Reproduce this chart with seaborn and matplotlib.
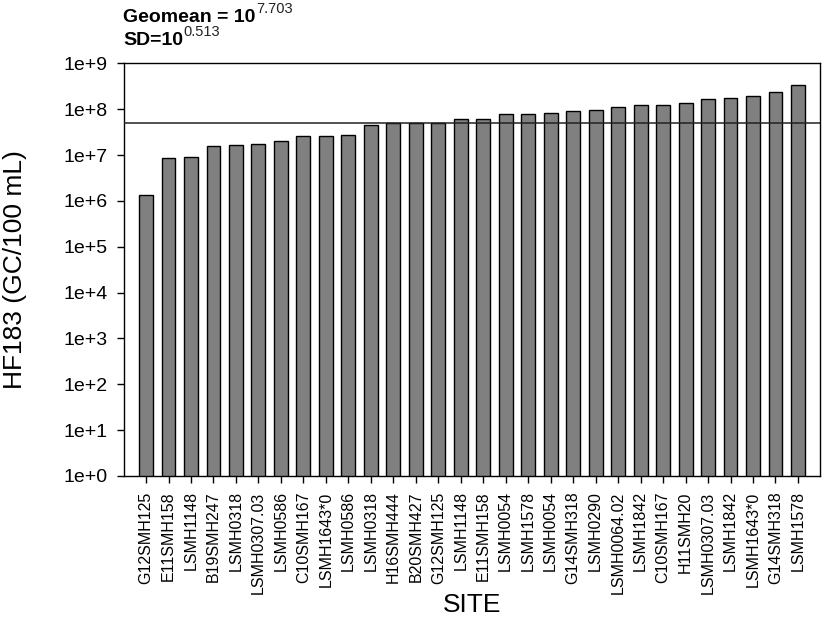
import numpy as np
import pandas as pd
import matplotlib
matplotlib.use("Agg")
import matplotlib.pyplot as plt
import seaborn as sns
from matplotlib.ticker import FixedLocator, FuncFormatter

sites = ["G12SMH125", "E11SMH158", "LSMH1148", "B19SMH247", "LSMH0318",
         "LSMH0307.03", "LSMH0586", "C10SMH167", "LSMH1643*0", "LSMH0586",
         "LSMH0318", "H16SMH444", "B20SMH427", "G12SMH125", "LSMH1148",
         "E11SMH158", "LSMH0054", "LSMH1578", "LSMH0054", "G14SMH318",
         "LSMH0290", "LSMH0064.02", "LSMH1842", "C10SMH167", "H11SMH20",
         "LSMH0307.03", "LSMH1842", "LSMH1643*0", "G14SMH318", "LSMH1578"]
hf183 = [1.35e6, 8.5e6, 8.9e6, 1.56e7, 1.62e7, 1.7e7, 2.0e7, 2.65e7, 2.65e7, 2.7e7,
         4.6e7, 4.9e7, 5.0e7, 5.0e7, 6.1e7, 6.1e7, 7.9e7, 7.9e7, 8.4e7, 9.1e7,
         9.6e7, 1.12e8, 1.23e8, 1.23e8, 1.36e8, 1.64e8, 1.73e8, 1.9e8, 2.4e8, 3.3e8]
geomean_exp = 7.703
sd_exp = 0.513
ytick_exps = list(range(0, 10))

sns.set_style("white")
plt.rcParams["font.family"] = ["Liberation Sans", "DejaVu Sans"]
plt.rcParams["text.color"] = "black"
plt.rcParams["axes.labelcolor"] = "black"
plt.rcParams["xtick.color"] = "black"
plt.rcParams["ytick.color"] = "black"

df = pd.DataFrame({"pos": list(range(len(sites))), "site": sites, "value": hf183})

fig = plt.figure(figsize=(8.23, 6.35), dpi=100)
ax = fig.add_axes([124/823, 1-476/635, (820-124)/823, (476-63.3)/635])

sns.barplot(data=df, x="pos", y="value", ax=ax, color="#808080", saturation=1,
            edgecolor="black", linewidth=1.0, width=0.62, errorbar=None)
ax.set_yscale("log")
ax.set_ylim(1, 1e9)
ax.set_xlim(-0.98, len(sites) - 1 + 0.98)
ax.axhline(10**geomean_exp, color="#222222", linewidth=1.1, zorder=3)

ax.yaxis.set_major_locator(FixedLocator([10.0**e for e in ytick_exps]))
ax.yaxis.set_minor_locator(FixedLocator([]))
ax.yaxis.set_major_formatter(FuncFormatter(lambda v, p: f"1e+{int(round(np.log10(v)))}"))
ax.set_xticks(range(len(sites)))
ax.set_xticklabels(sites, rotation=90, fontsize=11.5)
ax.tick_params(axis="y", labelsize=14, length=5, width=1, pad=7, direction="out", left=True)
ax.tick_params(axis="x", length=5, width=1, pad=6, direction="out", bottom=True)

for s in ax.spines.values():
    s.set_color("black")
    s.set_linewidth(1.0)

ax.set_xlabel("SITE", fontsize=19)
ax.xaxis.set_label_coords(0.5, (476-605)/412.7)
ax.xaxis.label.set_va("center")
ax.set_ylabel("HF183 (GC/100 mL)", fontsize=19)
ax.yaxis.set_label_coords((15-124)/696, 0.5)
ax.yaxis.label.set_va("center")

t1 = fig.text(123/823, 1-22/635, "Geomean = 10", fontsize=14, fontweight="bold",
              ha="left", va="baseline")
ax.annotate(f"{geomean_exp}", xy=(1.01, 0.6), xycoords=t1, fontsize=10.5,
            ha="left", va="bottom", color="#222222")
t2 = fig.text(123/823, 1-45/635, "SD=10", fontsize=14, fontweight="bold",
              ha="left", va="baseline")
ax.annotate(f"{sd_exp}", xy=(1.01, 0.6), xycoords=t2, fontsize=10.5,
            ha="left", va="bottom", color="#222222")

fig.savefig("out.png", dpi=100)
